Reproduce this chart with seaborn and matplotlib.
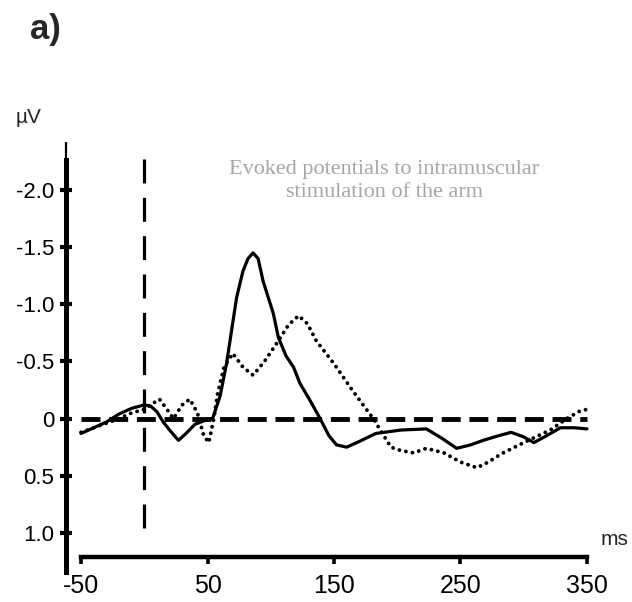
import matplotlib
matplotlib.use("Agg")
import matplotlib.pyplot as plt
import seaborn as sns

sns.set_style("white")
SANS = ['Liberation Sans', 'DejaVu Sans']
plt.rcParams['font.family'] = SANS

# ---- data (ms, µV; negative plotted upward) ----
t_solid = [-50, -40, -30, -20, -10, 0, 5, 10, 15, 20, 27, 33, 40, 47, 54,
           60, 65, 73, 78, 82, 86, 90, 94, 102, 106, 112, 118, 123, 131, 139,
           146, 152, 160, 170, 183, 203, 223, 235, 247, 258, 268, 280, 290,
           300, 308, 318, 329, 340, 350]
v_solid = [0.13, 0.08, 0.03, -0.04, -0.09, -0.12, -0.11, -0.06, 0.03, 0.1, 0.19, 0.13, 0.05, 0.02, 0.0,
           -0.2, -0.48, -1.06, -1.29, -1.4, -1.45, -1.4, -1.2, -0.92, -0.71, -0.55, -0.45, -0.31, -0.16, 0.0,
           0.15, 0.23, 0.25, 0.2, 0.13, 0.1, 0.09, 0.17, 0.26, 0.23, 0.19, 0.15, 0.12,
           0.16, 0.21, 0.15, 0.08, 0.08, 0.09]

t_dot = [-50, -40, -30, -20, -10, 0, 5, 12, 18, 23, 30, 36, 42, 47, 51,
         55, 58, 63, 70, 78, 86, 95, 106, 114, 122, 129, 136, 150, 165, 181,
         195, 203, 213, 223, 237, 250, 263, 272, 282, 300, 321, 334, 345, 350]
v_dot = [0.12, 0.08, 0.04, 0.0, -0.05, -0.08, -0.12, -0.17, -0.08, 0.0, -0.12, -0.17, -0.05, 0.15, 0.21,
         0.0, -0.22, -0.45, -0.57, -0.45, -0.38, -0.5, -0.68, -0.82, -0.9, -0.83, -0.68, -0.48, -0.24, 0.0,
         0.25, 0.28, 0.3, 0.26, 0.3, 0.38, 0.43, 0.38, 0.31, 0.21, 0.1, 0.0, -0.07, -0.08]

y_ticks = [-2.0, -1.5, -1.0, -0.5, 0, 0.5, 1.0]
y_tick_labels = ["-2.0", "-1.5", "-1.0", "-0.5", "0", "0.5", "1.0"]
x_ticks = [-50, 50, 150, 250, 350]
x_tick_labels = ["-50", "50", "150", "250", "350"]
stim_time = 0

fig = plt.figure(figsize=(6.32, 6.02), dpi=100)
ax = fig.add_axes([66/632, 1 - 572/602, 534/632, 430/602])
ax.set_facecolor('white')

X0, X1 = -61.9, 360.3
Y_BOT, Y_TOP = 1.342, -2.42

sns.lineplot(x=t_solid, y=v_solid, ax=ax, color='black', linewidth=2.3)
sns.lineplot(x=t_dot, y=v_dot, ax=ax, color='black', linewidth=2.8,
             linestyle=(0, (0.01, 1.7)), dash_capstyle='round')

# reference lines
ax.plot([-50, 350], [0, 0], color='black', lw=3.5, dashes=(3.9, 1.8), zorder=1)
ax.plot([stim_time, stim_time], [-2.27, 1.08], color='black', lw=2.3,
        dashes=(7.5, 4.5), zorder=1)

ax.set_xlim(X0, X1)
ax.set_ylim(Y_BOT, Y_TOP)

for s in ['top', 'right']:
    ax.spines[s].set_visible(False)
ax.spines['left'].set_linewidth(3.6)
ax.spines['left'].set_color('black')
ax.spines['left'].set_bounds(-2.262, Y_BOT)
ax.plot([X0, X0], [-2.27, Y_TOP], color='black', lw=1.6, clip_on=False,
        solid_capstyle='butt')
ax.spines['bottom'].set_position(('data', 1.21))
ax.spines['bottom'].set_bounds(-50, 350)
ax.spines['bottom'].set_linewidth(3.2)
ax.spines['bottom'].set_color('black')

ax.set_yticks(y_ticks)
ax.set_yticklabels(y_tick_labels)
ax.set_xticks(x_ticks)
ax.set_xticklabels(x_tick_labels)
ax.tick_params(axis='y', direction='inout', length=9, width=3, pad=4,
               labelsize=16, colors='black', left=True)
ax.tick_params(axis='x', direction='out', length=5, width=2.6, pad=7,
               labelsize=18, colors='black', bottom=True)
ax.set_xlabel('')
ax.set_ylabel('')

fig.text(16/632, 1 - 123/602, 'µV', fontsize=15, va='baseline', ha='left')
fig.text(601/632, 1 - 545/602, 'ms', fontsize=15, va='baseline', ha='left')
fig.text(30/632, 1 - 29/602, 'a)', fontsize=25, fontweight='bold', va='center',
         ha='left')
fig.text(384/632, 1 - 181/602,
         'Evoked potentials to intramuscular\nstimulation of the arm',
         fontsize=16, color='#a6a6a6', ha='center', va='center',
         family=['Liberation Serif', 'DejaVu Serif'], linespacing=1.3)

fig.savefig('out.png', dpi=100)
